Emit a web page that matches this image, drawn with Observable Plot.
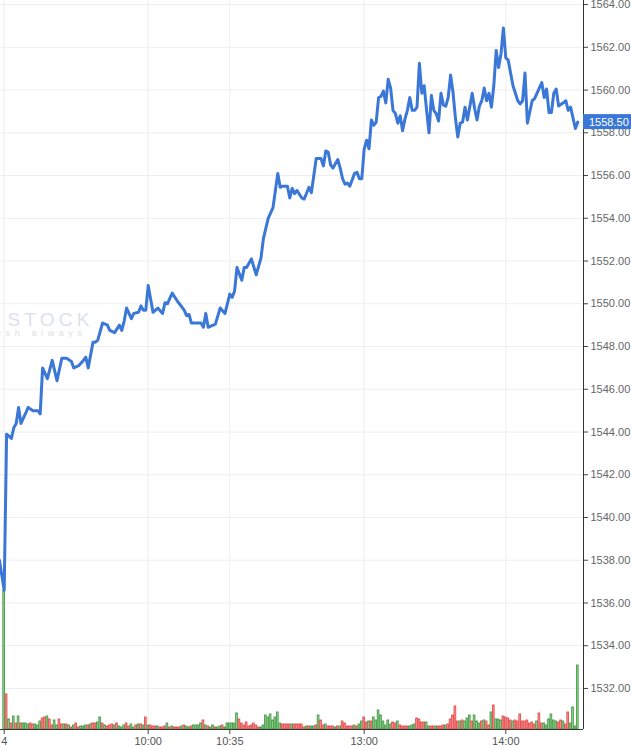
<!DOCTYPE html>
<html><head><meta charset="utf-8">
<script src="https://cdn.jsdelivr.net/npm/d3@7"></script>
<script src="https://cdn.jsdelivr.net/npm/@observablehq/plot@0.6"></script>
<style>
html,body{margin:0;padding:0;background:#fff;}
#chart{position:relative;width:631px;height:747px;overflow:hidden;background:#fff;}
#chart svg{position:absolute;left:0;top:0;}
</style></head><body><div id="chart"></div>
<script>
// ---- data ----
const lineIdx = [-2,0,1,3,4,5,6,7,9,10,12,14,15,16,18,20,22,24,26,28,29,31,33,34,35,37,38,39,41,43,44,46,48,49,50,51,53,54,56,57,58,59,60,62,64,66,67,68,70,72,73,75,76,77,78,80,82,83,84,85,87,88,90,92,94,95,96,97,99,100,101,103,105,107,108,110,112,114,115,116,118,119,120,121,122,124,125,127,128,130,132,133,134,135,136,137,139,140,141,142,143,144,146,147,148,149,150,151,152,153,154,155,156,157,158,159,160,161,162,163,164,165,166,167,168,169,170,171,172,173,174,175,176,177,178,179,180,181,182,183,184,185,186,187,188,189,190,191,192,193,195,196,197,198,199,200,201,202,203,204,205,206,207,208,209,210,211,212,214,215,216,217,218,220,221,223,224,225,226,227,228,229,230,231,233,234,235,236,237,238,239];
const linePrice = [1538.0,1536.6,1543.9,1543.7,1544.2,1544.4,1545.15,1544.4,1544.9,1545.15,1545.0,1545.0,1544.85,1547.0,1546.5,1547.35,1546.4,1547.45,1547.45,1547.3,1547.0,1547.1,1547.35,1547.5,1547.0,1548.2,1548.2,1548.3,1549.1,1549.0,1548.75,1548.65,1549.0,1548.75,1549.2,1549.8,1549.3,1549.55,1549.6,1549.9,1549.7,1549.7,1550.85,1549.6,1549.8,1549.55,1550.05,1550.0,1550.5,1550.15,1550.0,1549.7,1549.45,1549.5,1549.1,1549.1,1549.1,1548.9,1549.55,1548.9,1549.0,1549.05,1549.8,1549.55,1550.45,1550.3,1550.6,1551.7,1551.1,1551.7,1551.7,1552.1,1551.35,1552.15,1553.05,1554.0,1554.5,1556.1,1555.45,1555.5,1555.5,1554.95,1555.4,1555.15,1555.3,1554.95,1554.9,1555.45,1555.2,1556.8,1556.8,1556.45,1557.15,1557.1,1556.5,1556.35,1556.75,1556.35,1555.85,1555.6,1555.65,1555.5,1556.1,1556.15,1555.85,1555.85,1557.25,1557.65,1557.25,1558.6,1558.35,1558.5,1559.65,1559.7,1559.95,1559.4,1560.5,1560.1,1559.05,1558.9,1558.45,1558.8,1558.1,1558.65,1559.05,1559.65,1559.05,1559.05,1559.2,1561.25,1559.85,1560.2,1559.05,1558.0,1559.75,1559.05,1558.9,1558.55,1559.85,1559.3,1559.25,1559.65,1560.7,1559.9,1558.7,1557.8,1558.45,1558.5,1559.2,1558.6,1559.85,1559.15,1558.6,1559.25,1559.5,1560.1,1559.5,1559.85,1559.2,1560.2,1561.85,1561.05,1561.7,1562.9,1561.5,1561.4,1560.8,1560.2,1559.5,1559.35,1559.5,1560.8,1558.45,1559.5,1559.6,1560.1,1560.35,1559.65,1560.05,1558.95,1558.95,1559.85,1560.05,1559.25,1559.4,1559.5,1559.05,1559.2,1558.7,1558.2,1558.5];

// volume per minute bar (index 0..239), in hundreds of lots
const volumes = [139,35,10,6,13,6,13,6,6,6,5,6,5,5,4,8,11,12,13,10,4,9,4,10,5,5,5,4,2,4,6,2,3,3,4,4,5,6,6,7,12,6,4,3,4,5,4,6,3,2,4,6,3,5,2,4,5,5,4,12,4,4,3,3,3,2,2,3,6,2,3,2,2,2,3,4,3,2,3,4,4,4,6,9,4,3,2,4,2,2,3,4,2,6,6,6,6,16,10,6,4,7,3,4,6,4,2,2,4,14,12,15,9,12,17,6,5,5,5,5,5,5,5,5,5,2,3,3,
3,3,4,14,9,4,5,3,3,3,2,3,3,8,6,3,3,3,4,3,5,8,12,7,8,8,12,9,19,14,8,4,9,5,7,6,8,4,3,3,3,3,4,5,11,10,7,7,7,3,3,3,3,3,3,4,4,5,10,14,23,8,8,9,8,11,14,8,14,8,6,8,9,8,4,17,24,10,10,9,13,12,11,9,8,9,8,15,8,8,9,6,7,5,8,16,6,6,4,10,15,9,8,7,9,8,5,17,6,22,3,64];
// g = closed up (green), r = closed down (red)
const volumeDir = "grgrgrgrgggrrgggrrgrrggrrgrgrgrrgggrgrrggrgrrrgrgggrrggrgrgrgrrrgrrrgrgrrrgrggrggggrgrggrggrggggggrrrrrrrrrgggggggggrrrrgrrrrrgrg" +
                  "grgrrgrrrgrgrrrrrgrggrrgrggggggggrrgrrrrgggrrrrggrrgrrrgrrrrrgrgggrgggrgrrgrgggrrrrgrrrrrrrrrgrrggggggrrgrrggggrrgggrgrr";
const yTicks = [1532,1534,1536,1538,1540,1542,1544,1546,1548,1550,1552,1554,1556,1558,1560,1562,1564];
const xTickIdx = [0,60,94,150,209];
const xTickLabels = ["4","10:00","10:35","13:00","14:00"];
const lastPrice = 1558.50;
const watermark = "STOCK";
const watermarkTagline = "fresh always";

// ---- layout ----
const W = 631, H = 747;
const M = {marginTop: 0, marginRight: 48, marginBottom: 18, marginLeft: 0};
const xDomain = [-1.54, 241.375];
const yDomain = [1530.08, 1564.19];
const font = "'Liberation Sans', Arial, sans-serif";
const lineBlue = "#3b77d6";

const lineData = lineIdx.map((x, i) => ({x, p: linePrice[i]}));
const volData = volumes.map((v, i) => ({i, v, up: volumeDir[i] !== "r"}));
const labelMap = new Map(xTickIdx.map((d, i) => [d, xTickLabels[i]]));

const base = {
  width: W, height: H, ...M,
  style: {background: "transparent", fontFamily: font, fontSize: "11px", overflow: "visible"}
};

// layer 1: grid
const gridLayer = Plot.plot({
  ...base,
  x: {domain: xDomain, axis: null},
  y: {domain: yDomain, axis: null},
  marks: [
    Plot.gridY(yTicks, {stroke: "#eeeeee", strokeOpacity: 1}),
    Plot.gridX(xTickIdx, {stroke: "#eeeeee", strokeOpacity: 1})
  ]
});

// layer 2: volume bars
const volLayer = Plot.plot({
  ...base,
  x: {domain: xDomain, axis: null},
  y: {domain: [0, d3.max(volumes) / 0.1907], axis: null},
  marks: [
    Plot.rectY(volData, {
      x1: d => d.i - 0.36, x2: d => d.i + 0.36, y: "v",
      fill: d => d.up ? "#8fd68f" : "#ff9090",
      stroke: d => d.up ? "#4b9a4b" : "#e05050",
      strokeWidth: 0.9
    })
  ]
});

// price tag mark using the plot's own y scale
function priceTag(index, scales, values, dims) {
  const y = scales.y(lastPrice);
  const x0 = dims.width - dims.marginRight;
  const g = d3.create("svg:g");
  g.append("rect").attr("x", x0).attr("y", y - 7.5).attr("width", dims.marginRight).attr("height", 15).attr("fill", lineBlue);
  g.append("text").attr("x", x0 + 6).attr("y", y).attr("dy", "0.36em").attr("text-anchor", "start")
    .attr("fill", "#fff").attr("font-size", 11).attr("font-family", font).text(lastPrice.toFixed(2));
  return g.node();
}

// layer 3: line, axes, tag
const mainLayer = Plot.plot({
  ...base,
  x: {domain: xDomain, label: null},
  y: {domain: yDomain, label: null},
  marks: [
    Plot.text([watermark], {frameAnchor: "top-left", dx: 7, dy: 319, text: d => d, textAnchor: "start",
      lineAnchor: "middle", fontSize: 19, fill: "#dce2ea"}),
    Plot.text([watermarkTagline], {frameAnchor: "top-left", dx: 86, dy: 333, text: d => d, textAnchor: "end",
      lineAnchor: "middle", fontSize: 9, fill: "#e0e0e0"}),
    Plot.line(lineData, {x: "x", y: "p", stroke: lineBlue, strokeWidth: 3, strokeLinejoin: "round", strokeLinecap: "round"}),
    Plot.ruleX([xDomain[1]], {stroke: "#333"}),
    Plot.ruleY([yDomain[0]], {stroke: "#333"}),
    Plot.axisY(yTicks, {anchor: "right", label: null, tickSize: 4, tickPadding: 3, tickFormat: d => d.toFixed(2),
      stroke: "#444", fill: "#666", fontSize: 11}),
    Plot.axisX(xTickIdx, {anchor: "bottom", label: null, tickSize: 5, tickPadding: 3, tickFormat: d => labelMap.get(d),
      stroke: "#444", fill: "#555", fontSize: 11}),
    priceTag
  ]
});

const textGroups = d3.select(mainLayer).selectAll('g[aria-label="text"]').nodes();
if (textGroups[0]) d3.select(textGroups[0]).selectAll("text").attr("letter-spacing", 4.2);
if (textGroups[1]) d3.select(textGroups[1]).selectAll("text").attr("letter-spacing", 4.6);

const chart = document.getElementById("chart");
gridLayer.style.background = "#fff";
chart.append(gridLayer, volLayer, mainLayer);
</script>
</body></html>
